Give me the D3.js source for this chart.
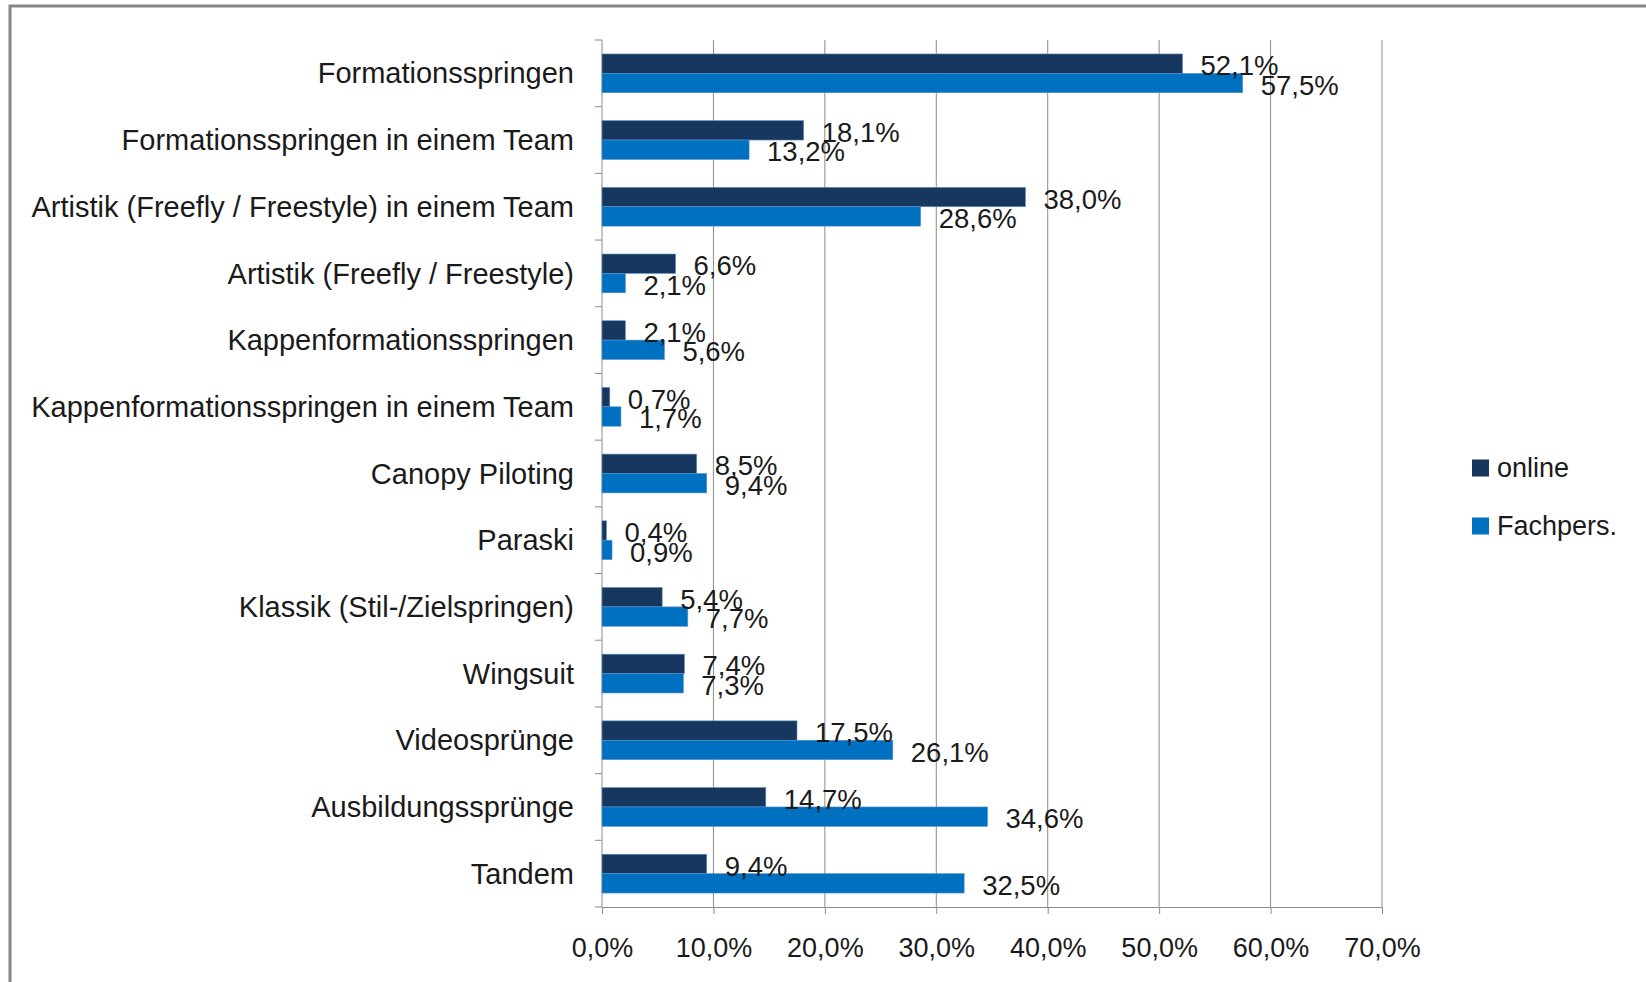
<!DOCTYPE html>
<html>
<head>
<meta charset="utf-8">
<script src="https://cdnjs.cloudflare.com/ajax/libs/d3/7.8.5/d3.min.js"></script>
<style>
  html, body { margin: 0; padding: 0; background: #fff; }
  svg { display: block; }
  text { font-family: "Liberation Sans", Arial, sans-serif; fill: #1a1a1a; }
</style>
</head>
<body>
<div id="chart"></div>
<script>
// Kategorien (von oben nach unten)
const categories = [
    "Formationsspringen",
    "Formationsspringen in einem Team",
    "Artistik (Freefly / Freestyle) in einem Team",
    "Artistik (Freefly / Freestyle)",
    "Kappenformationsspringen",
    "Kappenformationsspringen in einem Team",
    "Canopy Piloting",
    "Paraski",
    "Klassik (Stil-/Zielspringen)",
    "Wingsuit",
    "Videosprünge",
    "Ausbildungssprünge",
    "Tandem"
];

const seriesNames = ["online", "Fachpers."];

// Werte in Prozent
const onlineValues = [52.1, 18.1, 38.0, 6.6, 2.1, 0.7, 8.5, 0.4, 5.4, 7.4, 17.5, 14.7, 9.4];
const fachpersValues = [57.5, 13.2, 28.6, 2.1, 5.6, 1.7, 9.4, 0.9, 7.7, 7.3, 26.1, 34.6, 32.5];

const xTicks = [0, 10, 20, 30, 40, 50, 60, 70];

const colors = { "online": "#17375e", "Fachpers.": "#0070c0" };

const width = 1646, height = 982;
const plot = { left: 602, right: 1382, top: 40, bottom: 907 };

const fmt = v => v.toFixed(1).replace(".", ",") + "%";

const svg = d3.select("#chart").append("svg")
    .attr("width", width)
    .attr("height", height);

// Rahmen
svg.append("rect")
    .attr("x", 10).attr("y", 6)
    .attr("width", 1700).attr("height", 1100)
    .attr("fill", "none")
    .attr("stroke", "#878787")
    .attr("stroke-width", 3);

const x = d3.scaleLinear().domain([0, 70]).range([plot.left, plot.right]);
const y = d3.scaleBand().domain(categories).range([plot.top, plot.bottom]).padding(0);
const y1 = d3.scaleBand().domain(seriesNames).range([0, y.bandwidth()]).paddingOuter(0.72).paddingInner(0);

// Gitterlinien
svg.append("g")
    .selectAll("line")
    .data(xTicks.slice(1))
    .enter().append("line")
    .attr("x1", d => x(d)).attr("x2", d => x(d))
    .attr("y1", plot.top).attr("y2", plot.bottom)
    .attr("stroke", "#8c8c8c")
    .attr("stroke-width", 1);

// X-Achse
const xAxis = svg.append("g")
    .attr("transform", `translate(0,${plot.bottom})`)
    .call(d3.axisBottom(x).tickValues(xTicks).tickFormat(fmt).tickSize(7).tickPadding(24));
xAxis.select(".domain").attr("stroke", "#8c8c8c");
xAxis.selectAll(".tick line").attr("stroke", "#8c8c8c");
xAxis.selectAll("text")
    .style("font-family", "'Liberation Sans', Arial, sans-serif")
    .style("font-size", "27px")
    .attr("fill", "#1a1a1a");

// Y-Achse mit Markierungen an den Kategoriegrenzen
const boundaries = categories.map(c => y(c)).concat([plot.bottom]);
svg.append("line")
    .attr("x1", plot.left).attr("x2", plot.left)
    .attr("y1", plot.top).attr("y2", plot.bottom)
    .attr("stroke", "#8c8c8c");
svg.append("g")
    .selectAll("line")
    .data(boundaries)
    .enter().append("line")
    .attr("x1", plot.left - 7).attr("x2", plot.left)
    .attr("y1", d => d).attr("y2", d => d)
    .attr("stroke", "#8c8c8c");

svg.append("g")
    .selectAll("text")
    .data(categories)
    .enter().append("text")
    .attr("x", plot.left - 28)
    .attr("y", d => y(d) + y.bandwidth() / 2)
    .attr("dy", "0.35em")
    .attr("text-anchor", "end")
    .style("font-size", "29px")
    .text(d => d);

// Balken
const rows = categories.map((c, i) => ({
    category: c,
    values: [
        { series: "online", value: onlineValues[i] },
        { series: "Fachpers.", value: fachpersValues[i] }
    ]
}));

const group = svg.append("g")
    .selectAll("g")
    .data(rows)
    .enter().append("g")
    .attr("transform", d => `translate(0,${y(d.category)})`);

group.selectAll("rect")
    .data(d => d.values)
    .enter().append("rect")
    .attr("x", x(0))
    .attr("y", d => y1(d.series))
    .attr("width", d => x(d.value) - x(0))
    .attr("height", y1.bandwidth())
    .attr("fill", d => colors[d.series])
    .attr("stroke", "#5b8fc7")
    .attr("stroke-width", 0.6);

group.selectAll("text")
    .data(d => d.values)
    .enter().append("text")
    .attr("x", d => x(d.value) + 18)
    .attr("y", d => y1(d.series) + y1.bandwidth() / 2 + 2)
    .attr("dy", "0.35em")
    .style("font-size", "27.5px")
    .text(d => fmt(d.value));

// Legende
const legend = svg.append("g")
    .selectAll("g")
    .data(seriesNames)
    .enter().append("g")
    .attr("transform", (d, i) => `translate(1472,${468 + i * 58})`);

legend.append("rect")
    .attr("x", 0).attr("y", -8.5)
    .attr("width", 17).attr("height", 17)
    .attr("fill", d => colors[d]);

legend.append("text")
    .attr("x", 25)
    .attr("y", 0)
    .attr("dy", "0.35em")
    .style("font-size", "27px")
    .text(d => d);
</script>
</body>
</html>
